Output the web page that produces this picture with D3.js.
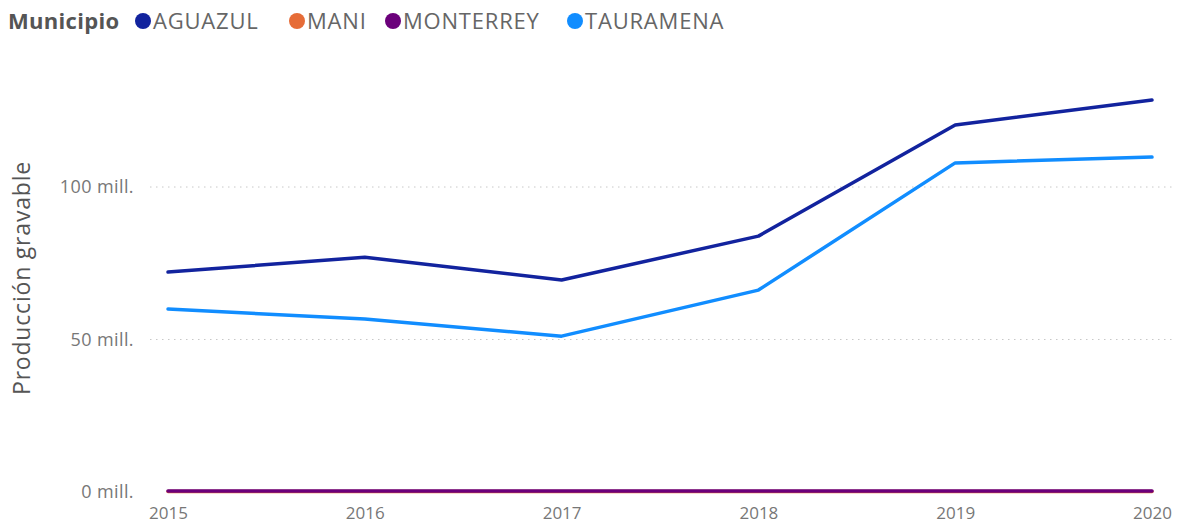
<!DOCTYPE html>
<html>
<head>
<meta charset="utf-8">
<script src="https://cdn.jsdelivr.net/npm/d3@7"></script>
<style>
  body { margin: 0; background: #fff; }
  text { font-family: "Open Sans", "Noto Sans", sans-serif; }
</style>
</head>
<body>
<div id="chart"></div>
<script>
const width = 1178;
const height = 529;
const margin = { top: 60, right: 26, bottom: 37, left: 168 };

// data (values in millions)
const years = [2015, 2016, 2017, 2018, 2019, 2020];
const aguazul = [72.1, 77.0, 69.5, 83.9, 120.3, 128.5];
const mani = [0.2, 0.2, 0.2, 0.2, 0.2, 0.2];
const monterrey = [0.3, 0.3, 0.3, 0.3, 0.3, 0.3];
const tauramena = [60.0, 56.7, 51.1, 66.2, 107.9, 109.8];
const yTicks = [0, 50, 100];

const seriesNames = ['AGUAZUL', 'MANI', 'MONTERREY', 'TAURAMENA'];
const seriesColors = ['#12239E', '#E66C37', '#6B007B', '#118DFF'];

const series = [
    { name: 'AGUAZUL', values: aguazul },
    { name: 'TAURAMENA', values: tauramena },
    { name: 'MANI', values: mani },
    { name: 'MONTERREY', values: monterrey }
];

const color = d3.scaleOrdinal().domain(seriesNames).range(seriesColors);

const svg = d3.select('#chart')
    .append('svg')
    .attr('width', width)
    .attr('height', height);

const x = d3.scalePoint()
    .domain(years)
    .range([margin.left, width - margin.right]);

const y = d3.scaleLinear()
    .domain([0, 100])
    .range([height - margin.bottom, 187]);

// gridlines (dotted), skip the zero line
svg.append('g')
    .selectAll('line')
    .data(yTicks.filter(d => d > 0))
    .join('line')
    .attr('x1', 150)
    .attr('x2', width - 4)
    .attr('y1', d => y(d))
    .attr('y2', d => y(d))
    .attr('stroke', '#c8c8c8')
    .attr('stroke-width', 1)
    .attr('stroke-dasharray', '1.5,4.5');

// y axis labels
const yAxis = d3.axisLeft(y)
    .tickValues(yTicks)
    .tickSize(0)
    .tickPadding(0)
    .tickFormat(d => `${d} mill.`);

const yg = svg.append('g')
    .attr('transform', 'translate(134,0)')
    .call(yAxis);
yg.select('.domain').remove();
yg.selectAll('text')
    .attr('fill', '#777')
    .style('font-size', '18px')
    .style('letter-spacing', '0.4px')
    .attr('dy', '0.32em');

// x axis labels
const xAxis = d3.axisBottom(x)
    .tickSize(0)
    .tickPadding(0)
    .tickFormat(d3.format('d'));

const xg = svg.append('g')
    .attr('transform', `translate(0, ${height - 15})`)
    .call(xAxis);
xg.select('.domain').remove();
xg.selectAll('text')
    .attr('fill', '#777')
    .style('font-size', '17px')
    .attr('dy', '0.32em');

// y axis title
svg.append('text')
    .attr('transform', 'translate(30, 278) rotate(-90)')
    .attr('text-anchor', 'middle')
    .attr('fill', '#555')
    .style('font-size', '23px')
    .style('letter-spacing', '0.8px')
    .text('Producción gravable');

// lines
const line = d3.line()
    .x((d, i) => x(years[i]))
    .y(d => y(d));

svg.append('g')
    .selectAll('path')
    .data(series)
    .join('path')
    .attr('d', d => line(d.values))
    .attr('fill', 'none')
    .attr('stroke', d => color(d.name))
    .attr('stroke-width', 3.5)
    .attr('stroke-linejoin', 'round')
    .attr('stroke-linecap', 'round');

// legend
const legend = svg.append('g').attr('transform', 'translate(8, 21)');
legend.append('text')
    .attr('x', 0)
    .attr('y', 0)
    .attr('dy', '0.35em')
    .attr('fill', '#555')
    .style('font-size', '22px')
    .style('font-weight', 'bold')
    .style('letter-spacing', '0.3px')
    .text('Municipio');

const legendX = [135, 289, 385, 567];
seriesNames.forEach((name, i) => {
    legend.append('circle')
        .attr('cx', legendX[i])
        .attr('cy', 0)
        .attr('r', 8)
        .attr('fill', color(name));
    legend.append('text')
        .attr('x', legendX[i] + 10)
        .attr('y', 0)
        .attr('dy', '0.35em')
        .attr('fill', '#666')
        .style('font-size', '22px')
        .style('letter-spacing', '0.8px')
        .text(name);
});
</script>
</body>
</html>
